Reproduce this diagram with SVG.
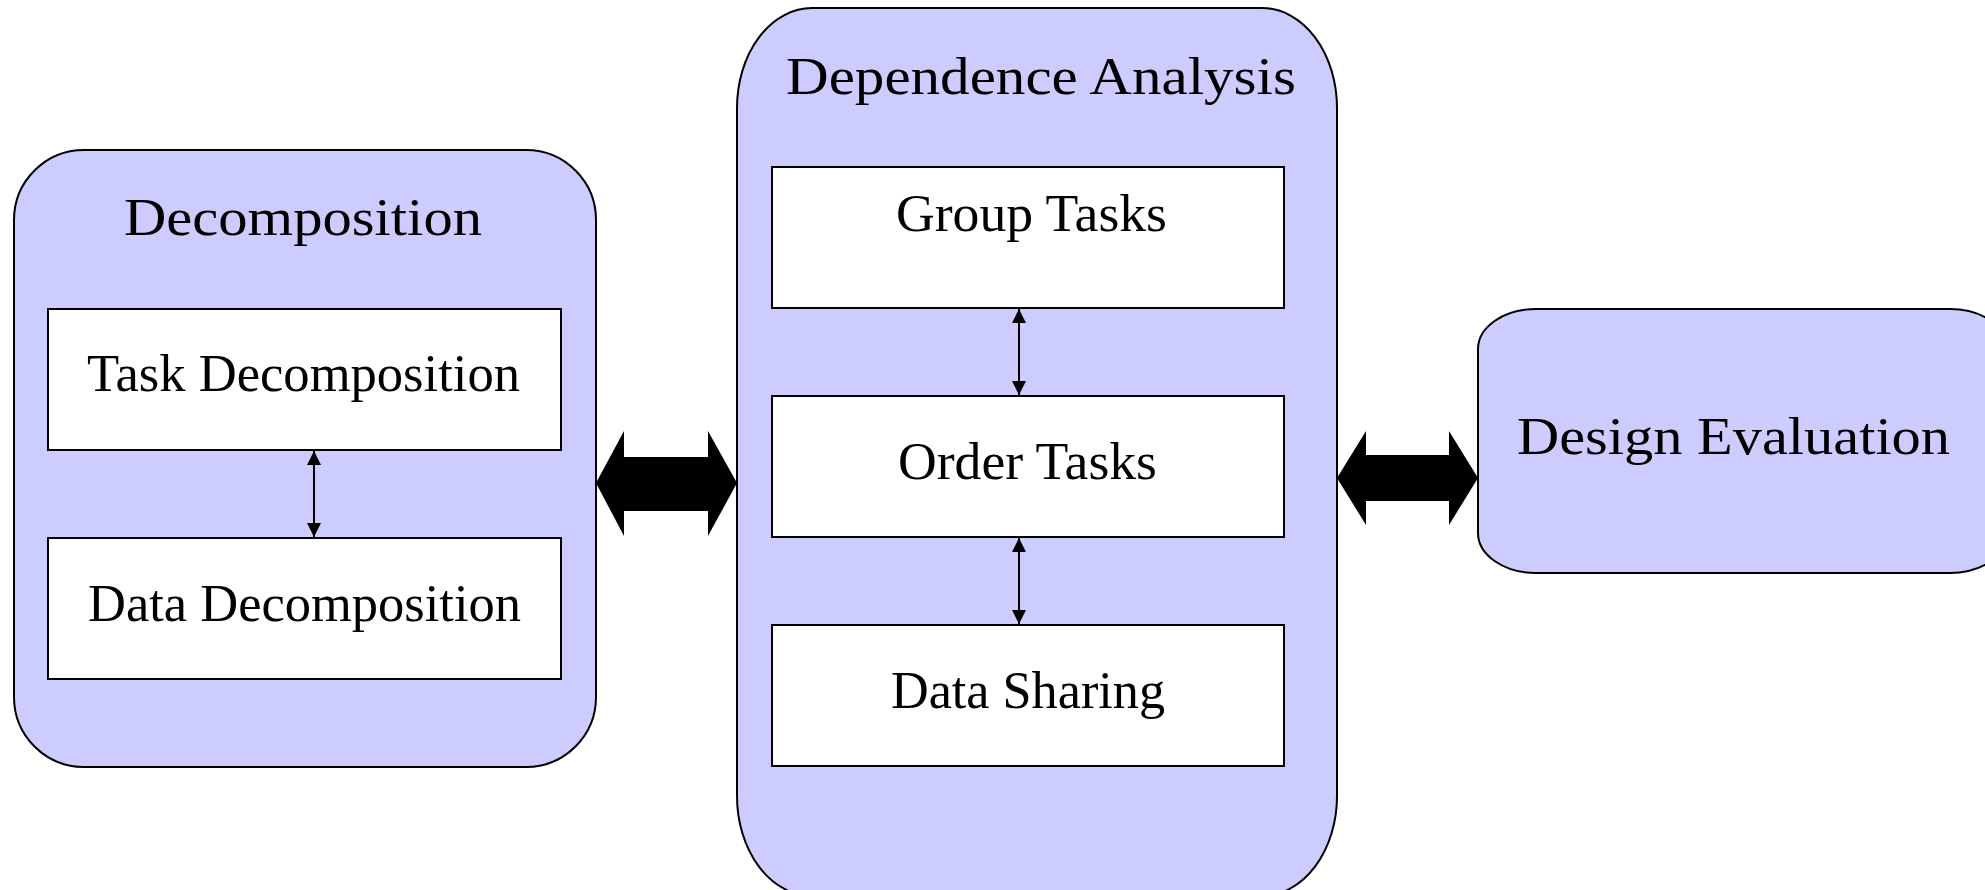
<svg xmlns="http://www.w3.org/2000/svg" width="1985" height="890" viewBox="0 0 1985 890">
<style>
.outer{fill:#CCCCFF;stroke:#000;stroke-width:2}
.inner{fill:#FFFFFF;stroke:#000;stroke-width:2}
.t{font-family:"Liberation Serif","DejaVu Serif",serif;font-size:53px;fill:#000}
.thin{stroke:#000;stroke-width:2;fill:none;marker-start:url(#ah);marker-end:url(#ah)}
.big{fill:#000;stroke:none}
</style>
<defs>
<marker id="ah" viewBox="0 0 10 10" refX="10" refY="5" markerWidth="7" markerHeight="7" orient="auto-start-reverse" markerUnits="strokeWidth">
<path d="M0,0 L10,5 L0,10 Z" fill="#000"/>
</marker>
</defs>
<rect width="1985" height="890" fill="#FFFFFF"/>
<g id="decomposition">
<rect class="outer" x="14" y="150" width="582" height="617" rx="70" ry="70"/>
<text class="t" x="124" y="235" textLength="358" lengthAdjust="spacingAndGlyphs">Decomposition</text>
</g>
<g id="task-decomposition">
<rect class="inner" x="48" y="309" width="513" height="141"/>
<text class="t" x="87" y="391" textLength="433" lengthAdjust="spacingAndGlyphs">Task Decomposition</text>
</g>
<g id="data-decomposition">
<rect class="inner" x="48" y="538" width="513" height="141"/>
<text class="t" x="88" y="621" textLength="433" lengthAdjust="spacingAndGlyphs">Data Decomposition</text>
</g>
<g id="dependence-analysis">
<rect class="outer" x="737" y="8" width="600" height="888" rx="75" ry="100"/>
<text class="t" x="786" y="94" textLength="510" lengthAdjust="spacingAndGlyphs">Dependence Analysis</text>
</g>
<g id="group-tasks">
<rect class="inner" x="772" y="167" width="512" height="141"/>
<text class="t" x="896" y="231" textLength="271" lengthAdjust="spacingAndGlyphs">Group Tasks</text>
</g>
<g id="order-tasks">
<rect class="inner" x="772" y="396" width="512" height="141"/>
<text class="t" x="898" y="479" textLength="259" lengthAdjust="spacingAndGlyphs">Order Tasks</text>
</g>
<g id="data-sharing">
<rect class="inner" x="772" y="625" width="512" height="141"/>
<text class="t" x="891" y="708" textLength="274" lengthAdjust="spacingAndGlyphs">Data Sharing</text>
</g>
<g id="design-evaluation">
<rect class="outer" x="1478" y="309" width="530" height="264" rx="58" ry="40"/>
<text class="t" x="1517" y="454" textLength="433" lengthAdjust="spacingAndGlyphs">Design Evaluation</text>
</g>
<g id="connectors">
<line class="thin" x1="314" y1="451" x2="314" y2="537"/>
<line class="thin" x1="1019" y1="309" x2="1019" y2="395"/>
<line class="thin" x1="1019" y1="538" x2="1019" y2="624"/>
<path class="big" d="M596,483 L624,431 L624,457 L708,457 L708,431 L737,483 L708,536 L708,511 L624,511 L624,536 Z"/>
<path class="big" d="M1337,478 L1366,431 L1366,455 L1449,455 L1449,431 L1478,478 L1449,525 L1449,501 L1366,501 L1366,525 Z"/>
</g>
</svg>
